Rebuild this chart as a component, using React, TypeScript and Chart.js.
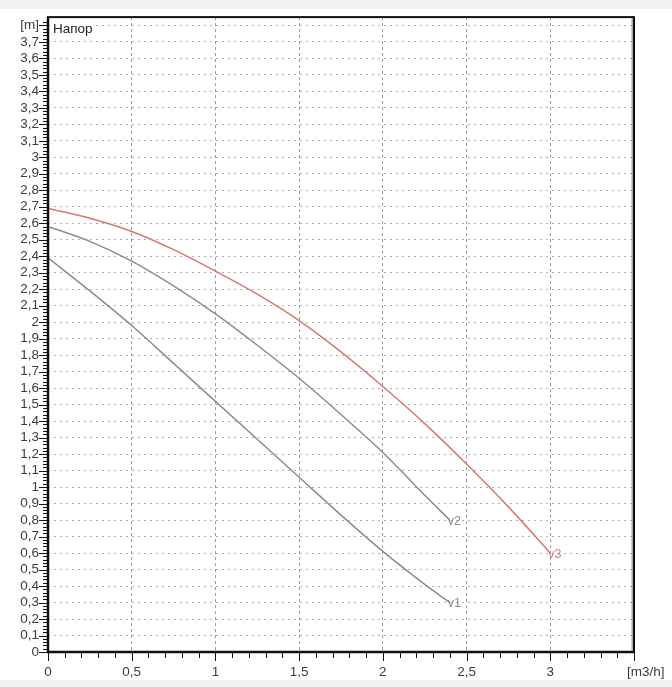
import { useEffect, useRef } from "react";
import { Chart, registerables } from "chart.js";

Chart.register(...registerables);

// ---- data ----
const flowV3 = [0, 0.25, 0.5, 0.75, 1, 1.25, 1.5, 1.75, 2, 2.25, 2.5, 2.75, 3];
const headV3 = [2.69, 2.63, 2.55, 2.44, 2.31, 2.17, 2.01, 1.82, 1.61, 1.385, 1.14, 0.88, 0.6];
const flowV12 = [0, 0.25, 0.5, 0.75, 1, 1.25, 1.5, 1.75, 2, 2.25, 2.4];
const headV2 = [2.58, 2.49, 2.37, 2.22, 2.05, 1.86, 1.66, 1.44, 1.21, 0.95, 0.8];
const headV1 = [2.39, 2.19, 1.98, 1.75, 1.52, 1.29, 1.06, 0.83, 0.61, 0.41, 0.3];
const seriesNames = ["v1", "v2", "v3"];
const chartTitle = "Напор";
const yUnit = "[m]";
const xUnit = "[m3/h]";
const xMax = 3.5;
const yMax = 3.85;
const yUnitTick = 3.8;

const FONT = '"Liberation Sans", Arial, sans-serif';
const TICK_COLOR = "#3c3c3c";

const isMult = (v: number, step: number) => {
  const r = v / step;
  return Math.abs(r - Math.round(r)) < 1e-6;
};
const fmt = (v: number) => String(Math.round(v * 10) / 10).replace(".", ",");

const framePlugin = {
  id: "frame",
  beforeDraw(chart: any) {
    const { ctx, width, height } = chart;
    ctx.save();
    ctx.fillStyle = "#ffffff";
    ctx.fillRect(0, 0, width, height);
    ctx.fillStyle = "#f1f1f1";
    ctx.fillRect(0, 0, width, 9);
    ctx.fillRect(0, 680, width, height - 680);
    ctx.restore();
  },
  afterDraw(chart: any) {
    const { ctx, chartArea: a, scales } = chart;
    ctx.save();
    // tick marks
    ctx.strokeStyle = "#111";
    ctx.lineWidth = 1;
    const ys = scales.y;
    ys.ticks.forEach((t: any) => {
      const v = t.value;
      if (v > yMax - 0.005) return;
      const p = Math.round(ys.getPixelForValue(v)) + 0.5;
      const len = isMult(v, 0.1) ? 9 : 5;
      ctx.beginPath();
      ctx.moveTo(a.left - len, p);
      ctx.lineTo(a.left, p);
      ctx.stroke();
    });
    const xs = scales.x;
    xs.ticks.forEach((t: any) => {
      const v = t.value;
      const p = Math.round(xs.getPixelForValue(v)) + 0.5;
      const len = isMult(v, 0.5) ? 9 : 6;
      ctx.beginPath();
      ctx.moveTo(p, a.bottom);
      ctx.lineTo(p, a.bottom + len);
      ctx.stroke();
    });
    // frame
    ctx.strokeStyle = "#111";
    ctx.lineWidth = 2;
    ctx.strokeRect(a.left, a.top, a.right - a.left, a.bottom - a.top);
    ctx.lineWidth = 2.5;
    ctx.beginPath();
    ctx.moveTo(a.left, a.top);
    ctx.lineTo(a.left, a.bottom);
    ctx.lineTo(a.right, a.bottom);
    ctx.stroke();
    ctx.strokeStyle = "#a8a8a8";
    ctx.lineWidth = 1.5;
    ctx.beginPath();
    ctx.moveTo(a.right - 1.8, a.top + 1);
    ctx.lineTo(a.right - 1.8, a.bottom - 1);
    ctx.stroke();
    // x unit label at the axis end
    ctx.font = `13.5px ${FONT}`;
    ctx.fillStyle = TICK_COLOR;
    ctx.textBaseline = "middle";
    ctx.textAlign = "left";
    ctx.fillText(xUnit, a.right - 7, a.bottom + 20);
    // title
    ctx.font = `13.5px ${FONT}`;
    const tw = ctx.measureText(chartTitle).width;
    ctx.fillStyle = "#ffffff";
    ctx.fillRect(a.left + 2, a.top + 3, tw + 6, 16);
    ctx.fillStyle = "#222";
    ctx.fillText(chartTitle, a.left + 5, a.top + 12);
    // series labels
    ctx.font = `12.5px ${FONT}`;
    chart.data.datasets.forEach((ds: any, i: number) => {
      const meta = chart.getDatasetMeta(i);
      const last = meta.data[meta.data.length - 1];
      ctx.fillStyle = ds.labelColor;
      ctx.fillText(ds.label, last.x - 2, last.y + 1);
    });
    ctx.restore();
  },
};

export default function App() {
  const ref = useRef<HTMLCanvasElement | null>(null);

  useEffect(() => {
    document.body.style.margin = "0";
    if (!ref.current) return;
    const mk = (xs: number[], ys: number[]) => xs.map((x, i) => ({ x, y: ys[i] }));
    const chart = new Chart(ref.current, {
      type: "line",
      data: {
        datasets: [
          {
            label: seriesNames[0],
            data: mk(flowV12, headV1),
            borderColor: "#8c8c8c",
            labelColor: "#8a8a8a",
            borderWidth: 1.5,
            pointRadius: 0,
            cubicInterpolationMode: "monotone",
            fill: false,
          } as any,
          {
            label: seriesNames[1],
            data: mk(flowV12, headV2),
            borderColor: "#8c8c8c",
            labelColor: "#8a8a8a",
            borderWidth: 1.5,
            pointRadius: 0,
            cubicInterpolationMode: "monotone",
            fill: false,
          } as any,
          {
            label: seriesNames[2],
            data: mk(flowV3, headV3),
            borderColor: "#d9776e",
            labelColor: "#d47f78",
            borderWidth: 1.5,
            pointRadius: 0,
            cubicInterpolationMode: "monotone",
            fill: false,
          } as any,
        ],
      },
      options: {
        animation: false,
        responsive: true,
        maintainAspectRatio: false,
        layout: { padding: { top: 17, right: 38, left: 0, bottom: 0 } },
        plugins: { legend: { display: false }, tooltip: { enabled: false } },
        scales: {
          x: {
            type: "linear",
            min: 0,
            max: xMax,
            afterFit: (s: any) => {
              s.height = 35;
            },
            ticks: {
              stepSize: 0.1,
              autoSkip: false,
              maxRotation: 0,
              padding: 12,
              color: TICK_COLOR,
              font: { family: FONT, size: 13.5 },
              callback: (v: any) => {
                const n = Number(v);
                if (Math.abs(n - xMax) < 1e-6) return "";
                return isMult(n, 0.5) ? fmt(n) : "";
              },
            },
            grid: {
              drawTicks: false,
              lineWidth: 1,
              color: (c: any) => {
                const v = c.tick ? c.tick.value : 0;
                return v > 0.01 && v < xMax - 0.01 && isMult(v, 0.5) ? "#9a9a9a" : "rgba(0,0,0,0)";
              },
            },
            border: { display: false, dash: [3, 3] },
          },
          y: {
            type: "linear",
            min: 0,
            max: yMax,
            afterFit: (s: any) => {
              s.width = 48;
            },
            ticks: {
              stepSize: 0.02,
              autoSkip: false,
              padding: 9,
              color: TICK_COLOR,
              font: { family: FONT, size: 13.5 },
              callback: (v: any) => {
                const n = Number(v);
                if (Math.abs(n - yUnitTick) < 1e-6) return yUnit;
                if (n > yUnitTick) return "";
                return isMult(n, 0.1) ? fmt(n) : "";
              },
            },
            grid: {
              drawTicks: false,
              lineWidth: 1,
              color: (c: any) => {
                const v = c.tick ? c.tick.value : 0;
                return v > 0.01 && v < yMax - 0.02 && isMult(v, 0.1) ? "#b0b0b0" : "rgba(0,0,0,0)";
              },
            },
            border: { display: false, dash: [2, 4] },
          },
        },
      },
      plugins: [framePlugin],
    });
    return () => chart.destroy();
  }, []);

  return (
    <div style={{ position: "relative", width: 672, height: 687 }}>
      <canvas ref={ref} />
    </div>
  );
}
